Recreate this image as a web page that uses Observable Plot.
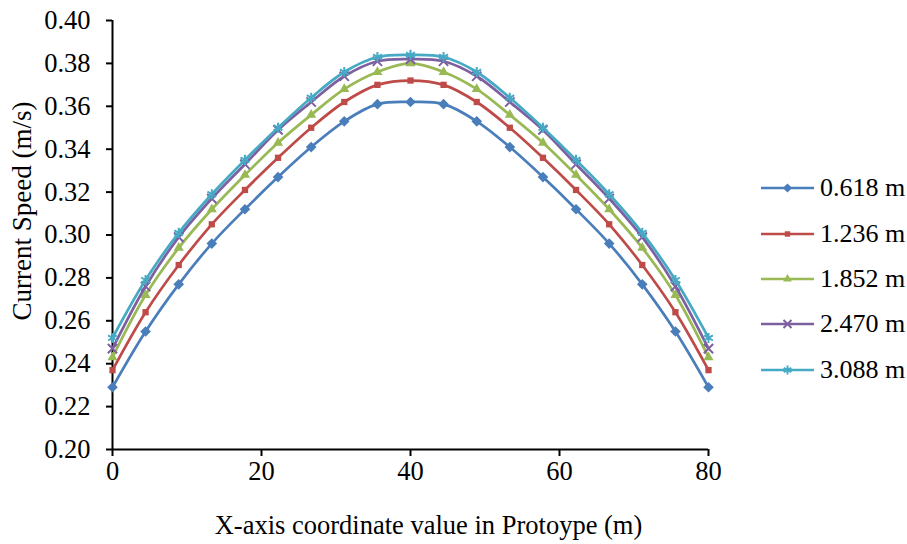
<!DOCTYPE html>
<html><head><meta charset="utf-8">
<script src="https://cdn.jsdelivr.net/npm/d3@7"></script>
<script src="https://cdn.jsdelivr.net/npm/@observablehq/plot@0.6"></script>
<style>
body{margin:0;background:#fff;font-family:"Liberation Serif","Times New Roman",serif;}
#wrap{position:relative;width:907px;height:544px;font-family:"Liberation Serif","Times New Roman",serif;color:#000;}
#legend{position:absolute;left:760px;top:0;}
.row{position:absolute;left:0;display:flex;align-items:center;height:30px;white-space:nowrap;font-size:26px;}
.row svg{margin-right:5px;}
</style></head><body><div id="wrap"><div id="chart"></div><div id="legend"></div></div>
<script>
const xs = [0, 4.44, 8.89, 13.33, 17.78, 22.22, 26.67, 31.11, 35.56, 40, 44.44, 48.89, 53.33, 57.78, 62.22, 66.67, 71.11, 75.56, 80];
const s0618 = [0.229, 0.255, 0.277, 0.296, 0.312, 0.327, 0.341, 0.353, 0.361, 0.362, 0.361, 0.353, 0.341, 0.327, 0.312, 0.296, 0.277, 0.255, 0.229];
const s1236 = [0.237, 0.264, 0.286, 0.305, 0.321, 0.336, 0.350, 0.362, 0.370, 0.372, 0.370, 0.362, 0.350, 0.336, 0.321, 0.305, 0.286, 0.264, 0.237];
const s1852 = [0.243, 0.272, 0.294, 0.312, 0.328, 0.343, 0.356, 0.368, 0.376, 0.380, 0.376, 0.368, 0.356, 0.343, 0.328, 0.312, 0.294, 0.272, 0.243];
const s2470 = [0.247, 0.276, 0.299, 0.317, 0.333, 0.349, 0.362, 0.374, 0.381, 0.382, 0.381, 0.374, 0.362, 0.349, 0.333, 0.317, 0.299, 0.276, 0.247];
const s3088 = [0.252, 0.279, 0.301, 0.319, 0.335, 0.350, 0.364, 0.376, 0.383, 0.384, 0.383, 0.376, 0.364, 0.350, 0.335, 0.319, 0.301, 0.279, 0.252];
const seriesNames = ["0.618 m", "1.236 m", "1.852 m", "2.470 m", "3.088 m"];
const xTicks = [0, 20, 40, 60, 80];
const yTicks = [0.20, 0.22, 0.24, 0.26, 0.28, 0.30, 0.32, 0.34, 0.36, 0.38, 0.40];
const xTitle = "X-axis coordinate value in Protoype (m)";
const yTitle = "Current Speed (m/s)";

const values = [s0618, s1236, s1852, s2470, s3088];
const colors = ["#4A7EBB", "#BE4B48", "#98B954", "#7D60A0", "#46AAC5"];
const symbols = ["diamond2", "square2", "triangle2", "times", "asterisk"];
const radii = [4.8, 4.0, 4.8, 4.3, 4.8];
const filled = [true, true, true, false, false];

const FONT = '"Liberation Serif","Times New Roman",serif';
const marks = [];
values.forEach((vals, i) => {
  const data = xs.map((x, j) => ({x, y: vals[j], s: seriesNames[i]}));
  marks.push(Plot.line(data, {x: "x", y: "y", stroke: colors[i], strokeWidth: 2.7, curve: "catmull-rom"}));
  marks.push(Plot.dot(data, filled[i]
    ? {x: "x", y: "y", symbol: () => symbols[i], r: radii[i], fill: colors[i], stroke: "none"}
    : {x: "x", y: "y", symbol: () => symbols[i], r: radii[i], stroke: colors[i], strokeWidth: 2, fill: "none"}));
});

const chart = Plot.plot({
  width: 907, height: 544,
  marginLeft: 112, marginRight: 199, marginTop: 20, marginBottom: 95,
  style: {fontFamily: FONT, fontSize: "26px", color: "#000", background: "#fff", overflow: "visible"},
  x: {domain: [0, 80]},
  y: {domain: [0.2, 0.4]},
  symbol: {type: "identity"},
  marks: [
    Plot.axisX({ticks: xTicks, tickSize: 7, tickPadding: 5, strokeWidth: 2, label: null, fontSize: 26.5}),
    Plot.axisY({ticks: yTicks, tickSize: 6, tickPadding: 16, strokeWidth: 2, label: null, tickFormat: d3.format(".2f"), fontSize: 26.5}),
    Plot.ruleX([0], {stroke: "#000", strokeWidth: 2}),
    Plot.ruleY([0.2], {stroke: "#000", strokeWidth: 2}),
    ...marks,
    Plot.text([yTitle], {text: d => d, frameAnchor: "left", dx: -90, dy: -24, rotate: -90, fontSize: 27, textAnchor: "middle", lineAnchor: "middle", fill: "#000"}),
    Plot.text([xTitle], {text: d => d, frameAnchor: "bottom", dx: 18, dy: 76, fontSize: 26.5, textAnchor: "middle", lineAnchor: "middle", fill: "#000"})
  ]
});
document.getElementById("chart").appendChild(chart);

const legend = document.getElementById("legend");
const centers = [188, 234, 279, 324, 370];
const symMap = {diamond2: d3.symbolDiamond2, square2: d3.symbolSquare2, triangle2: d3.symbolTriangle2, times: d3.symbolTimes, asterisk: d3.symbolAsterisk};
seriesNames.forEach((name, i) => {
  const row = document.createElement("div");
  row.className = "row";
  row.style.top = (centers[i] - 15) + "px";
  const svg = d3.create("svg").attr("width", 55).attr("height", 30);
  svg.append("line").attr("x1", 1).attr("x2", 54).attr("y1", 15).attr("y2", 15)
    .attr("stroke", colors[i]).attr("stroke-width", 2.7);
  const p = svg.append("path").attr("transform", "translate(27.5,15)")
    .attr("d", d3.symbol(symMap[symbols[i]], Math.PI * radii[i] * radii[i] * 0.75)());
  if (filled[i]) p.attr("fill", colors[i]); else p.attr("fill", "none").attr("stroke", colors[i]).attr("stroke-width", 2);
  row.appendChild(svg.node());
  const t = document.createElement("span");
  t.textContent = name;
  row.appendChild(t);
  legend.appendChild(row);
});
</script>
</body></html>
